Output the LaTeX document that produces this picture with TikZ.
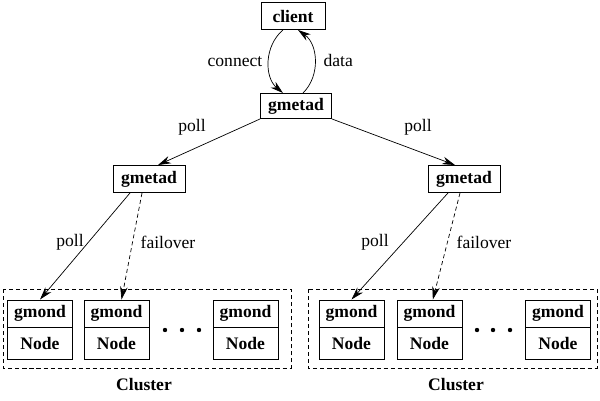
\documentclass[tikz,border=0pt]{standalone}
\usepackage{fontspec}
\setmainfont{Liberation Serif}
\usetikzlibrary{arrows.meta,positioning}

\begin{document}
\begin{tikzpicture}[x=0.03cm,y=-0.03cm,->,>={Stealth[length=11pt,width=6.5pt]},semithick,
    every node/.style={font=\fontsize{15}{18}\selectfont},
    box/.style={draw,line width=0.8pt,inner sep=0pt,font=\fontsize{15}{18}\selectfont\bfseries},
    gmondtop/.style={box,minimum width=1.95cm,minimum height=0.81cm},
    nodebottom/.style={box,minimum width=1.95cm,minimum height=0.96cm},
    cluster/.style={draw,dash pattern=on 3.5pt off 2.5pt,semithick,-},
    failover/.style={dash pattern=on 3.5pt off 2.5pt}]
            \useasboundingbox (0,0) rectangle (600,400);
            \node[box,minimum width=1.92cm,minimum height=0.81cm](client)at(293, 16){client};
            \node[box,minimum width=2.13cm,minimum height=0.75cm](gmetad)at(296, 106){gmetad};
            \node[box,minimum width=2.16cm,minimum height=0.81cm](gmetadL)at(149, 179){gmetad};
            \node[box,minimum width=2.16cm,minimum height=0.81cm](gmetadR)at(464, 179){gmetad};
            % clusters
            \draw[cluster] (3, 289) rectangle (291, 368);
            \draw[cluster] (308, 289) rectangle (597, 368);
            \node(clusterL)at(144, 385){\bfseries Cluster};
            \node(clusterR)at(456, 385){\bfseries Cluster};
            \foreach \n/\x in {L1/40,L2/116.5,L3/245.5,R1/351.5,R2/429.5,R3/558}{
                \node[gmondtop](g\n)at(\x, 313.5){gmond};
                \node[nodebottom,below=0pt of g\n](n\n){Node};
            }
            \foreach \x in {165,182,199,477,493,510}
                \fill (\x, 330) circle (2.2);
            % connectors
            \path([xshift=-0.3cm]client.south) edge[bend right=50] node[left=2pt]{connect} ([xshift=-0.39cm]gmetad.north)
            ([xshift=0.21cm]gmetad.north) edge[bend right=50] node[right=4pt]{data} ([xshift=0.15cm]client.south)
            (gmetad.south west) edge ([xshift=0.27cm]gmetadL.north)
            (gmetad.south east) edge ([xshift=-0.27cm]gmetadR.north)
            ([xshift=-0.57cm]gmetadL.south) edge (gL1.north)
            ([xshift=-0.21cm]gmetadL.south) edge[failover] ([xshift=0.15cm]gL2.north)
            ([xshift=-0.48cm]gmetadR.south) edge (gR1.north)
            ([xshift=-0.12cm]gmetadR.south) edge[failover] ([xshift=0.1cm]gR2.north);
            \node(pollA)at(192, 127){poll};
            \node(pollB)at(418, 127){poll};
            \node(pollC)at(70, 242){poll};
            \node(failA)at(168, 242){failover};
            \node(pollD)at(375, 242){poll};
            \node(failB)at(484, 242){failover};
        \end{tikzpicture}
\end{document}
